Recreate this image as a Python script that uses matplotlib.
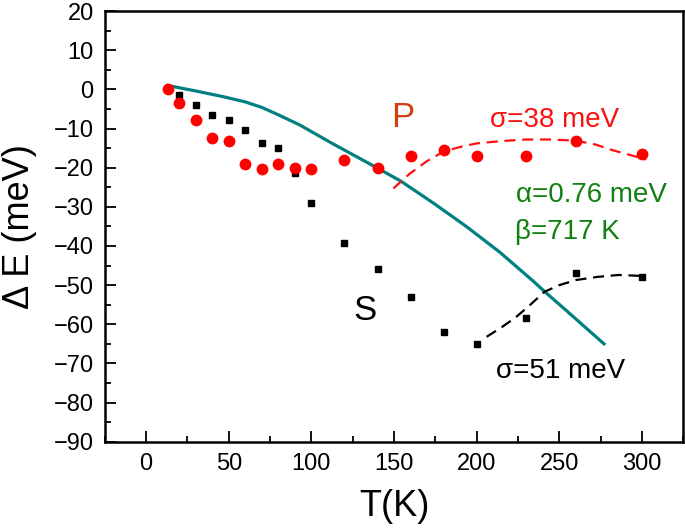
import numpy as np
import matplotlib.pyplot as plt
from matplotlib.ticker import MultipleLocator

plt.rcParams['font.family'] = ['Liberation Sans', 'DejaVu Sans']

T = [13, 20, 30, 40, 50, 60, 70, 80, 90, 100, 120, 140, 160, 180, 200, 230, 260, 300]
dE_S = [0, -1.5, -4, -6.5, -7.8, -10.5, -13.7, -15, -21.3, -29, -39.3, -46,
        -53, -62, -65, -58.3, -47, -47.8]
dE_P = [0, -3.4, -7.8, -12.4, -13.3, -19, -20.3, -19, -20.1, -20.3, -18.1, -20.2,
        -17, -15.6, -17, -17, -13.3, -16.5]

# Varshni fit curve (teal)
T_fit = [13, 30, 47, 60, 70, 80, 93, 113, 133, 154, 174, 194, 214, 234, 241, 254, 277]
dE_fit = [1, -0.4, -1.9, -3.2, -4.6, -6.5, -9.1, -13.9, -18.5, -23.4, -29.1, -35.1,
          -41.6, -48.9, -51.6, -56.4, -65.0]

# band-tail fits (dashed)
T_P_fit = [149.6, 159.6, 170, 180, 190, 200, 215, 230, 245, 260, 272, 282, 302.5]
dE_P_fit = [-25.3, -21.5, -18.3, -15.9, -14.7, -13.8, -13.2, -12.8, -12.8, -13.1,
            -14.1, -15.5, -17.9]
T_S_fit = [206, 215, 224, 233, 241, 250, 260, 273, 286, 302.5]
dE_S_fit = [-63.2, -60.8, -58.1, -54.8, -51.7, -50.0, -48.7, -47.9, -47.4, -47.7]

fig = plt.figure(figsize=(6.85, 5.28), dpi=100)
ax = fig.add_axes([0.153, 0.1634, 0.8445, 0.8156])

ax.plot(T_fit, dE_fit, color='#008080', lw=2.3, zorder=2)
ax.plot(T_P_fit, dE_P_fit, color='#ff1010', lw=1.6, ls=(0, (5, 3)), zorder=2)
ax.plot(T_S_fit, dE_S_fit, color='black', lw=1.6, ls=(0, (5, 3)), zorder=2)
ax.plot(T, dE_S, 's', color='black', ms=5, zorder=3)
ax.plot(T, dE_P, 'o', color='#ff0000', ms=8.5, mec='none', zorder=3)

ax.set_xlim(-25, 325)
ax.set_ylim(-90, 20)

ax.text(155.4, -7.3, 'P', color='#d04010', fontsize=25, ha='center', va='center')
ax.text(132.5, -56.4, 'S', color='black', fontsize=25, ha='center', va='center')
ax.text(247, -7.8, '\u03c3=38 meV', color='#ff1010', fontsize=20, ha='center', va='center')
ax.text(315, -27, '\u03b1=0.76 meV', color='#108010', fontsize=20, ha='right', va='center')
ax.text(255, -36.4, '\u03b2=717 K', color='#108010', fontsize=20, ha='center', va='center')
ax.text(251, -72, '\u03c3=51 meV', color='black', fontsize=20, ha='center', va='center')

ax.xaxis.set_major_locator(MultipleLocator(50))
ax.xaxis.set_minor_locator(MultipleLocator(25))
ax.yaxis.set_major_locator(MultipleLocator(10))
ax.yaxis.set_minor_locator(MultipleLocator(5))
ax.tick_params(which='both', direction='in', top=False, right=False, width=1.3)
ax.tick_params(which='major', length=8, labelsize=17, pad=8)
ax.tick_params(which='minor', length=4)
for s in ax.spines.values():
    s.set_linewidth(1.8)

ax.set_xlabel('T(K)', fontsize=26, labelpad=10)
ax.set_ylabel('\u0394 E (meV)', fontsize=26, labelpad=12)

fig.savefig('out.png', dpi=100)
